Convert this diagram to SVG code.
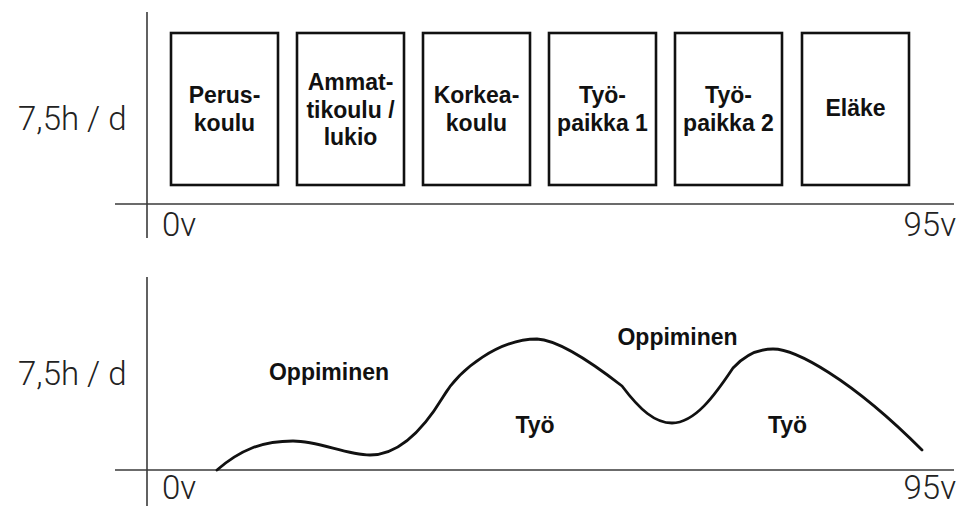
<svg xmlns="http://www.w3.org/2000/svg" width="960" height="508" viewBox="0 0 960 508">
<style>
.axis{stroke:#3a3a3a;stroke-width:1.6;fill:none}
.box{fill:#fff;stroke:#111;stroke-width:2.6}
.lbl{font-family:"Liberation Sans",Arial,sans-serif;font-weight:bold;font-size:23px;fill:#111;text-anchor:middle}
.ax{font-family:Roboto,"Liberation Sans",sans-serif;font-weight:300;font-size:33px;fill:#222}
.curve{fill:none;stroke:#111;stroke-width:2.8;stroke-linecap:round;stroke-linejoin:round}
</style>
<rect width="960" height="508" fill="#fff"/>
<g id="top-chart">
<line class="axis" x1="147" y1="12" x2="147" y2="238"/>
<line class="axis" x1="115" y1="204" x2="954" y2="204"/>
<text class="ax" x="18" y="130">7,5h / d</text>
<text class="ax" x="162" y="236">0v</text>
<text class="ax" x="956" y="236" text-anchor="end">95v</text>
</g>
<g id="peruskoulu"><rect class="box" x="171" y="33" width="107" height="152"/><text class="lbl" x="224.5" y="103">Perus-</text><text class="lbl" x="224.5" y="131">koulu</text></g>
<g id="ammattikoulu"><rect class="box" x="297" y="33" width="107" height="152"/><text class="lbl" x="350.5" y="90">Ammat-</text><text class="lbl" x="350.5" y="117.5">tikoulu /</text><text class="lbl" x="350.5" y="145">lukio</text></g>
<g id="korkeakoulu"><rect class="box" x="423" y="33" width="107" height="152"/><text class="lbl" x="476.5" y="103">Korkea-</text><text class="lbl" x="476.5" y="131">koulu</text></g>
<g id="tyopaikka1"><rect class="box" x="549" y="33" width="107" height="152"/><text class="lbl" x="602.5" y="103">Työ-</text><text class="lbl" x="602.5" y="131">paikka 1</text></g>
<g id="tyopaikka2"><rect class="box" x="675" y="33" width="107" height="152"/><text class="lbl" x="728.5" y="103">Työ-</text><text class="lbl" x="728.5" y="131">paikka 2</text></g>
<g id="elake"><rect class="box" x="802" y="33" width="107" height="152"/><text class="lbl" x="855.5" y="116">Eläke</text></g>
<g id="bottom-chart">
<line class="axis" x1="147" y1="277" x2="147" y2="506"/>
<line class="axis" x1="115" y1="470" x2="954" y2="470"/>
<text class="ax" x="18" y="385">7,5h / d</text>
<text class="ax" x="162" y="499">0v</text>
<text class="ax" x="956" y="499" text-anchor="end">95v</text>
</g>
<g id="connectors">
<path class="curve" d="M217 470 C240 450 262 441 293 441 C320 441 345 455 370 455 C395 455 420 435 443 397 C460 368 500 339 537 339 C560 340 595 365 622 386 C640 410 655 423 672 423 C695 423 715 395 733 368 C745 355 758 349 773 349 C795 349 850 378 922 450"/>
</g>
<g id="labels">
<text class="lbl" x="329" y="380">Oppiminen</text>
<text class="lbl" x="677.5" y="345">Oppiminen</text>
<text class="lbl" x="535" y="433">Työ</text>
<text class="lbl" x="787.5" y="433">Työ</text>
</g>
</svg>
